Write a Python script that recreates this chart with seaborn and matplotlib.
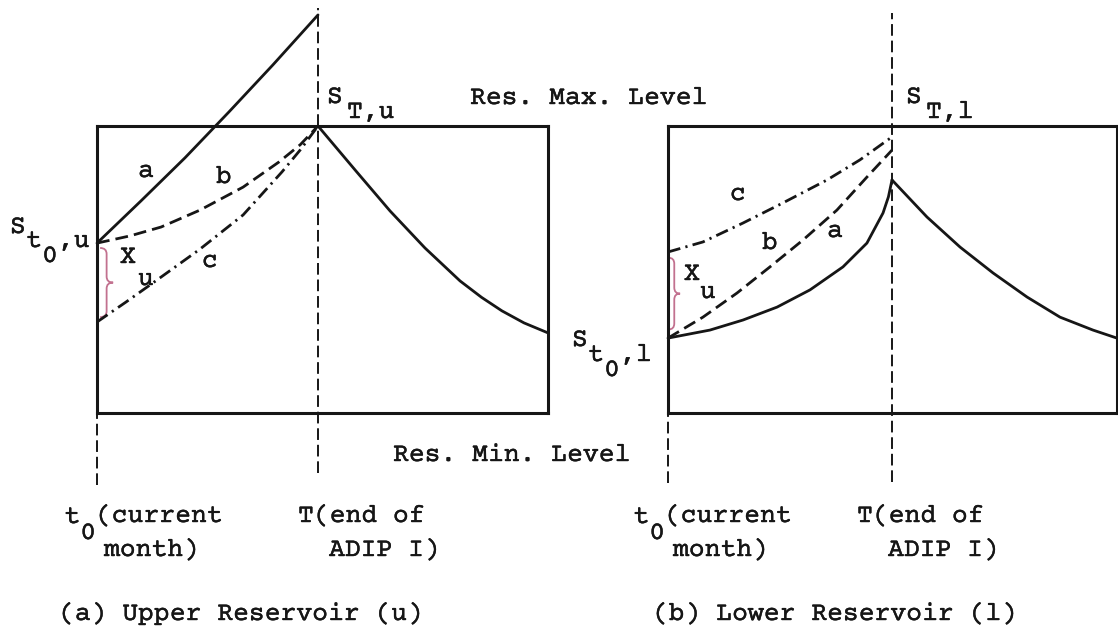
import matplotlib
matplotlib.use("Agg")
import matplotlib.pyplot as plt
import matplotlib.patheffects as pe
from matplotlib.path import Path
from matplotlib.patches import PathPatch
import seaborn as sns

# Time axis: t0 (current month) = 0, T (end of ADIP I) = 1.
# Storage axis: reservoir minimum level = 0, maximum level = 1.

# (a) Upper reservoir trajectories
upper_a_t = [0.0, 0.199, 0.398, 0.597, 0.796, 1.0]
upper_a_s = [0.592, 0.739, 0.889, 1.049, 1.213, 1.387]
upper_b_t = [0.0, 0.149, 0.290, 0.466, 0.661, 0.824, 0.920, 1.0]
upper_b_s = [0.592, 0.617, 0.648, 0.707, 0.787, 0.875, 0.935, 1.0]
upper_c_t = [0.0, 0.130, 0.258, 0.466, 0.661, 0.837, 0.920, 1.0]
upper_c_s = [0.317, 0.386, 0.456, 0.571, 0.690, 0.840, 0.917, 1.0]
upper_after_t = [1.0, 1.172, 1.326, 1.484, 1.643, 1.740, 1.832, 1.932, 2.041]
upper_after_s = [1.0, 0.843, 0.704, 0.575, 0.460, 0.403, 0.356, 0.314, 0.279]

# (b) Lower reservoir trajectories
lower_a_t = [0.0, 0.1875, 0.335, 0.487, 0.634, 0.781, 0.888, 0.960, 0.984, 1.0]
lower_a_s = [0.261, 0.289, 0.324, 0.369, 0.429, 0.509, 0.592, 0.697, 0.753, 0.812]
lower_b_t = [0.0, 0.156, 0.308, 0.455, 0.603, 0.754, 0.888, 1.0]
lower_b_s = [0.261, 0.334, 0.418, 0.509, 0.603, 0.707, 0.822, 0.916]
lower_c_t = [0.0, 0.156, 0.335, 0.513, 0.710, 0.857, 1.0]
lower_c_s = [0.561, 0.596, 0.662, 0.732, 0.812, 0.882, 0.962]
lower_after_t = [1.0, 1.156, 1.304, 1.451, 1.603, 1.75, 1.897, 2.004]
lower_after_s = [0.812, 0.683, 0.578, 0.488, 0.404, 0.334, 0.289, 0.261]

curve_names = ["a", "b", "c"]
t0_label = ["t", "0", "(current", "month)"]
T_label = ["T(end of", "ADIP I)"]
captions = ["(a) Upper Reservoir (u)", "(b) Lower Reservoir (l)"]
level_labels = ["Res. Max. Level", "Res. Min. Level"]

sns.set_theme(style="white")
plt.rcParams["font.family"] = ["Courier Prime", "Cutive Mono", "Liberation Mono"]

W, H = 1118, 632
fig = plt.figure(figsize=(W / 100, H / 100), dpi=100)
fig.patch.set_facecolor("white")

INK = "#161616"
BRACE = "#c2718f"
solid = "-"
dashed = (0, (4.6, 2.2))
dashdot = (0, (4.6, 1.9, 0.8, 1.9))
guide = (0, (6, 2.5))

PX_Y = 287.0  # pixels per unit of storage


def make_axes(left_px, width_px, unit_px):
    ax = fig.add_axes([left_px / W, (H - 413) / H, width_px / W, PX_Y / H])
    ax.set_xlim(0, width_px / unit_px)
    ax.set_ylim(0, 1)
    ax.set_xticks([])
    ax.set_yticks([])
    ax.set_facecolor("none")
    for sp in ax.spines.values():
        sp.set_visible(True)
        sp.set_linewidth(2.2)
        sp.set_color(INK)
    return ax


def brace(ax, x0, y_top, y_bot, width, hook):
    xm, xt, ym = x0 + width / 2, x0 + width, (y_top + y_bot) / 2
    verts = [(x0, y_top), (xm, y_top), (xm, y_top - hook),
             (xm, ym + hook), (xm, ym), (xt, ym),
             (xm, ym), (xm, ym - hook),
             (xm, y_bot + hook), (xm, y_bot), (x0, y_bot)]
    codes = [Path.MOVETO, Path.CURVE3, Path.CURVE3,
             Path.LINETO, Path.CURVE3, Path.CURVE3,
             Path.CURVE3, Path.CURVE3,
             Path.LINETO, Path.CURVE3, Path.CURVE3]
    ax.add_patch(PathPatch(Path(verts, codes), fill=False, edgecolor=BRACE,
                           lw=1.3, clip_on=False))


def draw_curve(ax, t, s, ls):
    sns.lineplot(x=t, y=s, ax=ax, color=INK, linewidth=2.0, linestyle=ls,
                 clip_on=False, estimator=None, sort=False)


text_kw = dict(fontsize=19, color=INK, ha="left", va="baseline",
               path_effects=[pe.withStroke(linewidth=0.3, foreground=INK)])


def put(px, py, s, **kw):
    opts = dict(text_kw)
    opts.update(kw)
    fig.text(px / W, 1 - py / H, s, **opts)


# ---------- panel (a) ----------
ax_u = make_axes(97, 451, 221)
draw_curve(ax_u, upper_a_t, upper_a_s, solid)
draw_curve(ax_u, upper_b_t, upper_b_s, dashed)
draw_curve(ax_u, upper_c_t, upper_c_s, dashdot)
draw_curve(ax_u, upper_after_t, upper_after_s, solid)
ax_u.vlines(1.0, (413 - 473) / PX_Y, (413 - 8) / PX_Y, colors=INK, lw=1.4,
            linestyles=[guide], clip_on=False)
ax_u.vlines(0.0, (413 - 485) / PX_Y, 0, colors=INK, lw=1.4,
            linestyles=[guide], clip_on=False)
brace(ax_u, 0.014, upper_a_s[0] - 0.017, upper_c_s[0] + 0.017, 0.059, 0.021)

# ---------- panel (b) ----------
ax_l = make_axes(668, 449, 224)
draw_curve(ax_l, lower_a_t, lower_a_s, solid)
draw_curve(ax_l, lower_b_t, lower_b_s, dashed)
draw_curve(ax_l, lower_c_t, lower_c_s, dashdot)
draw_curve(ax_l, lower_after_t, lower_after_s, solid)
ax_l.vlines(1.0, (413 - 482) / PX_Y, (413 - 13) / PX_Y, colors=INK, lw=1.4,
            linestyles=[guide], clip_on=False)
ax_l.vlines(0.0, (413 - 483) / PX_Y, 0, colors=INK, lw=1.4,
            linestyles=[guide], clip_on=False)
brace(ax_l, 0.002, lower_c_s[0] - 0.02, lower_a_s[0] + 0.03, 0.052, 0.021)

# ---------- labels ----------
put(470, 104, level_labels[0])
put(393, 461, level_labels[1])

# S_{T,u} and S_{T,l}
put(327, 103, "S")
put(347, 118, "T,u")
put(906, 103, "S")
put(926, 118, "T,l")

# S_{t0,u}
put(10, 233, "S")
put(26, 247, "t")
put(42, 262, "0")
put(58, 247, ",u")

# S_{t0,l}
put(572, 346, "S")
put(588, 361, "t")
put(604, 376, "0")
put(620, 361, ",l")

# X_u beside the braces
put(120, 263, "X")
put(138, 285, "u")
put(684, 280, "X")
put(700, 298, "u")

# curve letters
for (cx, cy), name in zip([(146, 177), (224, 183), (210, 267)], curve_names):
    put(cx, cy, name, ha="center")
for (cx, cy), name in zip([(835, 237), (770, 249), (738, 200)], curve_names):
    put(cx, cy, name, ha="center")

# time labels under each panel
for x_open, x_T in [(96, 298), (665, 857)]:
    put(x_open - 31.7, 523, t0_label[0])
    put(x_open - 15.8, 539, t0_label[1])
    put(x_open, 522, t0_label[2])
    put(x_open + 8, 556, t0_label[3])
    put(x_T, 522, T_label[0])
    put(x_T + 31, 556, T_label[1])

put(59, 620, captions[0])
put(653, 620, captions[1])

fig.savefig("out.png", dpi=100, facecolor="white")
